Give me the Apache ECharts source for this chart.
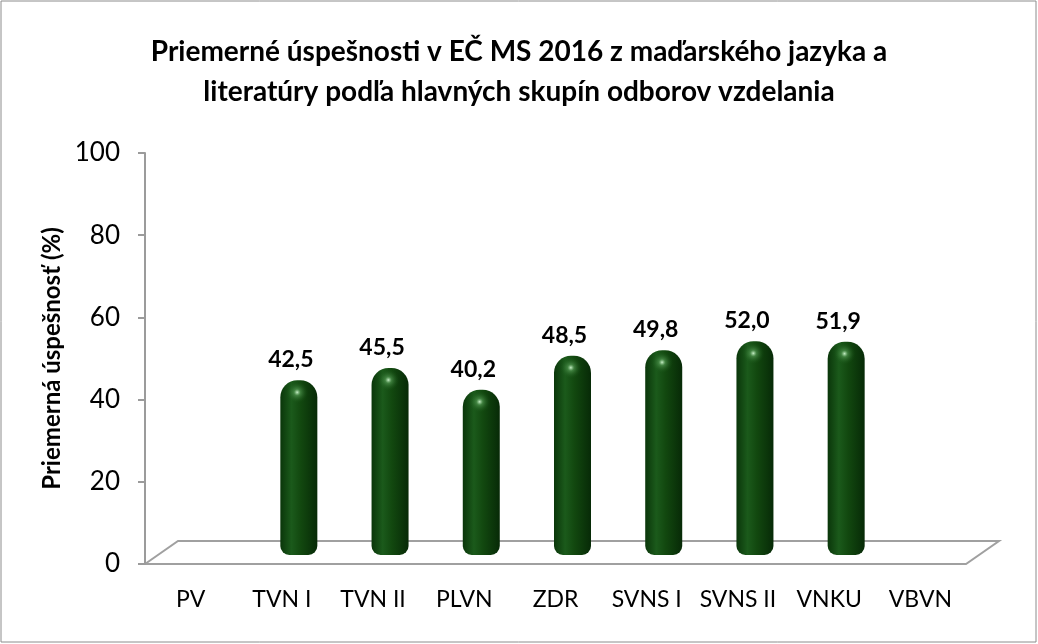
<!DOCTYPE html>
<html>
<head>
<meta charset="utf-8">
<script src="https://cdn.jsdelivr.net/npm/echarts@6/dist/echarts.min.js"></script>
<style>
  html, body { margin: 0; padding: 0; background: #fff; }
  #chart { width: 1038px; height: 644px; }
</style>
</head>
<body>
<div id="chart"></div>
<script>
// data
const categories = ["PV", "TVN I", "TVN II", "PLVN", "ZDR", "SVNS I", "SVNS II", "VNKU", "VBVN"];
const values = [null, 42.5, 45.5, 40.2, 48.5, 49.8, 52.0, 51.9, null];
const yTicks = [0, 20, 40, 60, 80, 100];

const titleText = "Priemerné úspešnosti v EČ MS 2016 z maďarského jazyka a\nliteratúry podľa hlavných skupín odborov vzdelania";
const yName = "Priemerná úspešnosť (%)";

let myChart = echarts.init(document.getElementById("chart"));

// front plane / depth offset of the 3d floor
const front = { left: 145, right: 966, bottom: 564, top: 153 };
const depth = { dx: 33, dy: -23 };
const barW = 37;
const fontFam = "Lato, 'Open Sans', sans-serif";

function renderBar(params, api) {
  let v = api.value(1);
  if (v == null || isNaN(v)) return;
  let top = api.coord([api.value(0), v]);
  let base = api.coord([api.value(0), 0]);
  let x = top[0] - barW / 2;
  let h = base[1] - top[1];
  return {
    type: "group",
    children: [
      {
        type: "rect",
        shape: { x: x, y: top[1], width: barW, height: h, r: [17, 17, 9, 9] },
        style: {
          fill: new echarts.graphic.LinearGradient(0, 0, 1, 0, [
            { offset: 0, color: "#0a360a" },
            { offset: 0.3, color: "#1b5a1b" },
            { offset: 0.55, color: "#12480f" },
            { offset: 1, color: "#072a07" }
          ])
        }
      },
      {
        type: "rect",
        shape: { x: x + 2, y: top[1] + 1, width: barW - 4, height: 22, r: [15, 15, 6, 6] },
        style: {
          fill: new echarts.graphic.RadialGradient(0.45, 0.5, 0.5, [
            { offset: 0, color: "rgba(210,250,210,0.95)" },
            { offset: 0.3, color: "rgba(90,160,90,0.6)" },
            { offset: 1, color: "rgba(20,80,20,0)" }
          ])
        }
      },
      {
        type: "text",
        style: {
          text: v.toFixed(1).replace(".", ","),
          x: top[0] - 8,
          y: top[1] - 9,
          align: "center",
          verticalAlign: "bottom",
          fill: "#000",
          font: "bold 23px " + fontFam
        }
      }
    ]
  };
}

myChart.setOption({
  animation: false,
  backgroundColor: "#fff",
  title: {
    text: titleText,
    left: "center",
    top: 27,
    textStyle: {
      fontFamily: fontFam,
      fontSize: 28,
      fontWeight: "bold",
      color: "#000",
      lineHeight: 40
    }
  },
  grid: [
    { left: front.left, right: 1038 - front.right, top: front.top, bottom: 644 - front.bottom },
    { left: front.left + 17, right: 1038 - front.right - 17, top: front.top - 9, bottom: 644 - front.bottom + 9 }
  ],
  xAxis: [
    {
      type: "category",
      gridIndex: 0,
      data: categories,
      axisLine: { show: false },
      axisTick: { show: false },
      axisLabel: { interval: 0, margin: 24, fontSize: 23, color: "#000", fontFamily: fontFam }
    },
    {
      type: "category",
      gridIndex: 1,
      data: categories,
      show: false
    }
  ],
  yAxis: [
    {
      type: "value",
      gridIndex: 0,
      min: yTicks[0],
      max: yTicks[yTicks.length - 1],
      interval: 20,
      name: yName,
      nameLocation: "middle",
      nameGap: 80,
      nameTextStyle: { fontFamily: fontFam, fontSize: 24, fontWeight: "bold", color: "#000" },
      axisLine: { show: true, lineStyle: { color: "#9b9b9b", width: 2 } },
      axisTick: { show: true, length: 7, lineStyle: { color: "#9b9b9b", width: 2 } },
      axisLabel: { fontSize: 26, color: "#000", margin: 25, fontFamily: fontFam },
      splitLine: { show: false }
    },
    {
      type: "value",
      gridIndex: 1,
      min: 0,
      max: 100,
      show: false
    }
  ],
  graphic: [
    {
      type: "rect",
      shape: { x: 1, y: 1, width: 1035, height: 641 },
      style: { fill: "none", stroke: "#8c8c8c", lineWidth: 1 },
      z: -1
    },
    {
      type: "polygon",
      shape: {
        points: [
          [front.left, front.bottom],
          [front.left + depth.dx, front.bottom + depth.dy],
          [front.right + depth.dx, front.bottom + depth.dy],
          [front.right, front.bottom]
        ]
      },
      style: { fill: "#fff", stroke: "#a0a0a0", lineWidth: 2 },
      z: 0
    }
  ],
  series: [
    {
      type: "custom",
      xAxisIndex: 1,
      yAxisIndex: 1,
      z: 5,
      renderItem: renderBar,
      data: categories.map((c, i) => [i, values[i]])
    }
  ]
});
</script>
</body>
</html>
